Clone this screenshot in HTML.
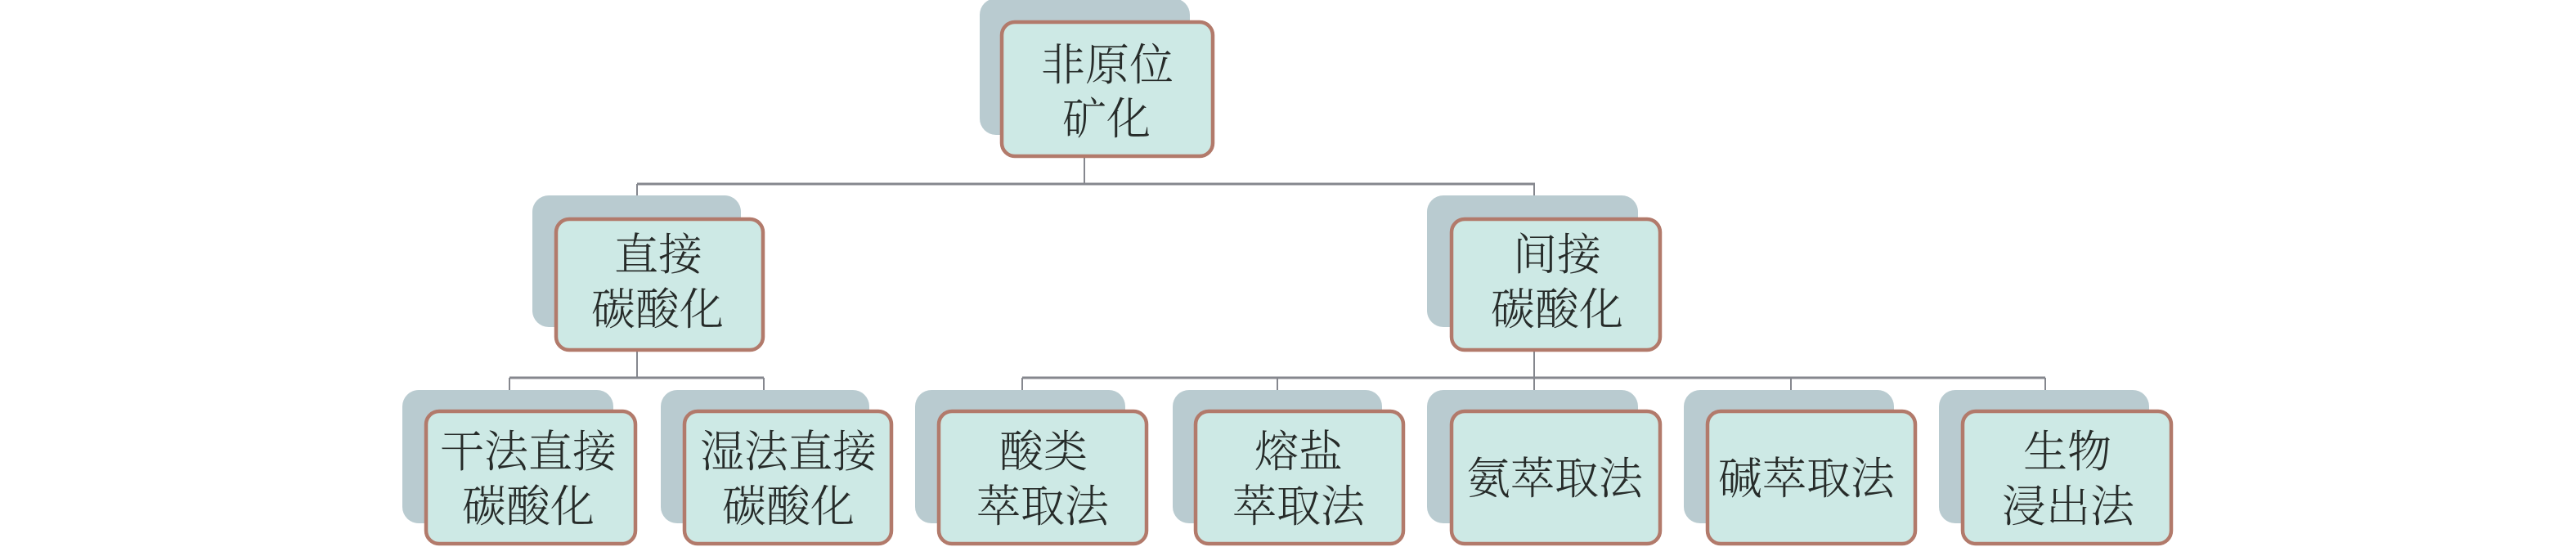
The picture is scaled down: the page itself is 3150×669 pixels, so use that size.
<!DOCTYPE html>
<html lang="zh">
<head>
<meta charset="utf-8">
<style>
html,body{margin:0;padding:0;background:#fff}
svg{display:block}
text{font-family:"Liberation Serif","Noto Serif CJK SC",serif;font-size:54px;font-weight:300;fill:#262b29;text-anchor:middle}
.s{fill:#b9cbd0}
.f{fill:#cde9e5;stroke:#b27a6b;stroke-width:4.5}
.l{stroke:#85878e;fill:none}
</style>
</head>
<body>
<svg width="3150" height="669" viewBox="0 0 3150 669" xmlns="http://www.w3.org/2000/svg">
<g class="l" stroke-width="3">
<path d="M779 225H1877M623 462H934M1250 462H2501"/>
</g>
<g class="l" stroke-width="2">
<path d="M1326 193V225M779 225V240M1876 225V240M779 430V462M623 462V478M934 462V478M1876 430V462M1250 462V478M1562 462V478M1876 462V478M2190 462V478M2501 462V478"/>
</g>
<g class="s">
<rect x="1198" y="-2" width="257" height="167" rx="20"/>
<rect x="651" y="239" width="255" height="161" rx="20"/>
<rect x="1745" y="239" width="258" height="161" rx="20"/>
<rect x="492" y="477" width="258" height="163" rx="20"/>
<rect x="808" y="477" width="255" height="163" rx="20"/>
<rect x="1119" y="477" width="257" height="163" rx="20"/>
<rect x="1434" y="477" width="256" height="163" rx="20"/>
<rect x="1745" y="477" width="258" height="163" rx="20"/>
<rect x="2059" y="477" width="257" height="163" rx="20"/>
<rect x="2371" y="477" width="257" height="163" rx="20"/>
</g>
<g class="f">
<rect x="1225" y="27" width="258" height="164" rx="16"/>
<rect x="680" y="268" width="253" height="160" rx="16"/>
<rect x="1775" y="268" width="255" height="160" rx="16"/>
<rect x="521" y="503" width="256" height="162" rx="16"/>
<rect x="837" y="503" width="253" height="162" rx="16"/>
<rect x="1148" y="503" width="254" height="162" rx="16"/>
<rect x="1462" y="503" width="254" height="162" rx="16"/>
<rect x="1775" y="503" width="255" height="162" rx="16"/>
<rect x="2088" y="503" width="254" height="162" rx="16"/>
<rect x="2400" y="503" width="255" height="162" rx="16"/>
</g>
<text x="1354" y="98">非原位</text>
<text x="1353" y="164">矿化</text>
<text x="805" y="330">直接</text>
<text x="804" y="397">碳酸化</text>
<text x="1904" y="330">间接</text>
<text x="1904" y="397">碳酸化</text>
<text x="646" y="571">干法直接</text>
<text x="646" y="638">碳酸化</text>
<text x="964" y="571">湿法直接</text>
<text x="964" y="638">碳酸化</text>
<text x="1276" y="571">酸类</text>
<text x="1275" y="638">萃取法</text>
<text x="1588" y="571">熔盐</text>
<text x="1588" y="638">萃取法</text>
<text x="1901" y="604">氨萃取法</text>
<text x="2209" y="604">碱萃取法</text>
<text x="2528" y="571">生物</text>
<text x="2529" y="638">浸出法</text>
</svg>
</body>
</html>
